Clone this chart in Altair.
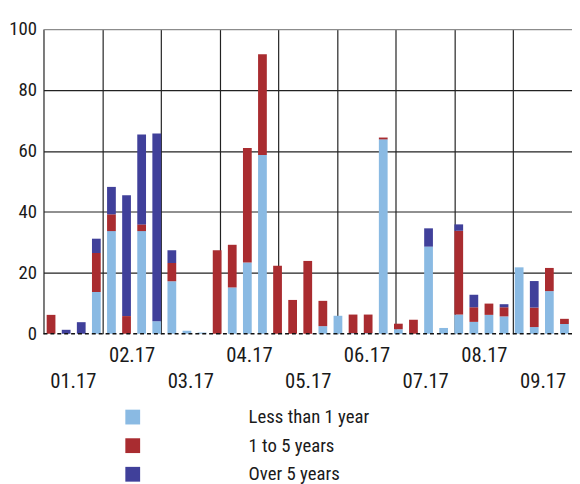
import altair as alt
import pandas as pd

# ---- data ----
weeks = list(range(1, 36))
less_1 = [0, 0, 0, 13.7, 33.7, 0, 33.7, 4.1, 17.2, 1.0,
          0.4, 0, 15.2, 23.4, 58.7, 0, 0, 0, 2.5, 5.9,
          0.2, 0.2, 63.8, 1.5, 0, 28.6, 1.9, 6.3, 3.9, 6.2,
          5.7, 21.8, 2.2, 14.0, 3.2]
one_5 = [6.2, 0, 0, 12.8, 5.5, 5.8, 2.2, 0, 6.0, 0,
         0, 27.4, 14.0, 37.6, 33.0, 22.3, 11.1, 23.9, 8.3, 0,
         6.1, 6.1, 0.6, 1.8, 4.6, 0, 0, 27.5, 4.8, 3.7,
         3.0, 0, 6.4, 7.6, 1.7]
over_5 = [0, 1.3, 3.8, 4.7, 9.0, 39.7, 29.5, 61.6, 4.2, 0,
          0, 0, 0, 0, 0, 0, 0, 0, 0, 0,
          0, 0, 0, 0, 0, 6.0, 0, 2.1, 4.1, 0,
          1.0, 0, 8.7, 0, 0]
month_labels = ["01.17", "02.17", "03.17", "04.17", "05.17",
                "06.17", "07.17", "08.17", "09.17"]
series = ["Less than 1 year", "1 to 5 years", "Over 5 years"]
colors = ["#8ABAE3", "#A92C30", "#40409A"]
y_ticks = [0, 20, 40, 60, 80, 100]

rows = []
for i, w in enumerate(weeks):
    for k, (name, vals) in enumerate(zip(series, [less_1, one_5, over_5])):
        rows.append({"week": w, "series": name, "value": vals[i], "order": k})
df = pd.DataFrame(rows)

FONT = "'Roboto Condensed', 'Liberation Sans Narrow', 'DejaVu Sans Condensed', Roboto, sans-serif"
n_months = len(month_labels)
month_ticks = [i * 0.5 for i in range(2 * n_months)]
GRID = "#222222"

bars = alt.Chart(df).mark_bar().encode(
    x=alt.X("week:O", axis=None,
            scale=alt.Scale(paddingInner=0.42, paddingOuter=0.21)),
    y=alt.Y("value:Q", stack="zero",
            scale=alt.Scale(domain=[0, 100], nice=False),
            axis=alt.Axis(values=y_ticks, title=None, ticks=False, domain=False,
                          labelFont=FONT, labelFontSize=19, labelPadding=7,
                          labelColor="#1a1a1a", gridWidth=1.2,
                          gridColor={"condition": {"test": "datum.value === 100", "value": "#8c8c8c"},
                                     "value": GRID},
                          gridOpacity={"condition": {"test": "datum.value === 0", "value": 0},
                                       "value": 1})),
    color=alt.Color("series:N", scale=alt.Scale(domain=series, range=colors),
                    legend=alt.Legend(title=None, orient="none", legendX=81, legendY=384,
                                      direction="vertical", symbolType="square",
                                      symbolSize=225, symbolStrokeWidth=0,
                                      labelFont=FONT, labelFontSize=19,
                                      labelColor="#1a1a1a", labelOffset=108,
                                      rowPadding=9, padding=0)),
    order=alt.Order("order:Q"),
)

base_df = pd.DataFrame({"y": [0]})
baseline = alt.Chart(base_df).mark_rule(color="#111111", strokeWidth=1.5,
                                        strokeDash=[4, 3]).encode(y="y:Q")

labels_arr = "[" + ",".join("'" + m + "'" for m in month_labels) + "]"
idx = "floor(datum.value)"
label_expr = ("datum.value % 1 === 0 ? '' : (" + idx + " % 2 === 0 ? ['', "
              + labels_arr + "[" + idx + "]] : " + labels_arr + "[" + idx + "])")

month_df = pd.DataFrame({"m": [0, n_months]})
months = alt.Chart(month_df).mark_point(opacity=0).encode(
    x=alt.X("m:Q", scale=alt.Scale(domain=[0, n_months], nice=False),
            axis=alt.Axis(orient="bottom", values=month_ticks, title=None,
                          ticks=False, domain=False, labelExpr=label_expr,
                          labelFont=FONT, labelFontSize=21, labelColor="#1a1a1a",
                          labelBaseline="top", labelPadding=11, labelLineHeight=27,
                          labelFlush=False, labelOverlap=False,
                          gridColor=GRID, gridWidth=1.2,
                          gridOpacity={"condition": {"test": "datum.value % 1 !== 0", "value": 0},
                                       "value": 1}))
)

chart = alt.layer(months, bars, baseline).resolve_scale(x="independent").properties(
    width=536, height=309,
    autosize=alt.AutoSizeParams(type="none"),
    padding={"left": 36, "top": 18, "right": 0, "bottom": 149},
    background="white",
).configure_view(stroke=None)

chart.save("out.html", embed_options={"renderer": "svg", "actions": False})
